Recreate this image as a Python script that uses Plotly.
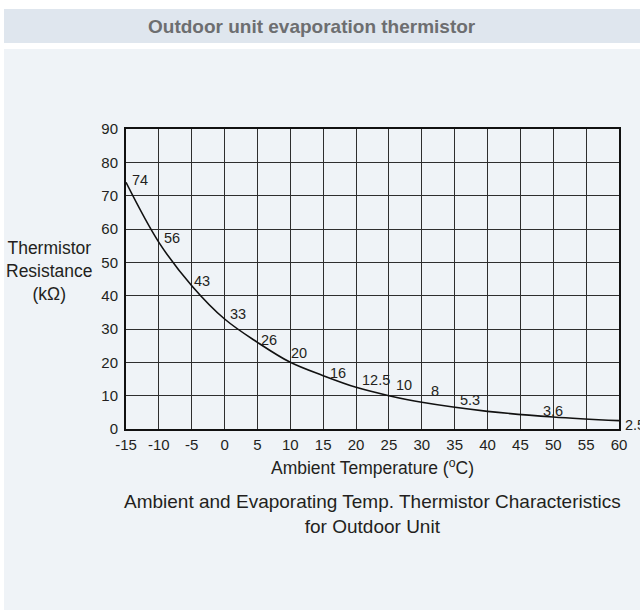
import plotly.graph_objects as go

# Thermistor characteristic: ambient temperature (°C) vs resistance (kΩ)
temps = [-15, -10, -5, 0, 5, 10, 15, 20, 25, 30, 40, 50, 60]
resistance = [74, 56, 43, 33, 26, 20, 16, 12.5, 10, 8, 5.3, 3.6, 2.5]
label_text = ["74", "56", "43", "33", "26", "20", "16", "12.5", "10", "8", "5.3", "3.6", "2.5"]
# pixel offsets of each value label from its point (dx right, dy down)
label_dx = [14, 13, 10, 13, 11.5, 9, 15, 20, 15, 13, -17.5, 0, 4]
label_dy = [-2, -4, -5, -5, -2, -9, -3, -7, -11, -11, -11, -6, 4]

x_ticks = [-15, -10, -5, 0, 5, 10, 15, 20, 25, 30, 35, 40, 45, 50, 55, 60]
x_tick_text = ["-15", "-10", "-5", "0", "5", "10", "15", "20", "25", "30",
               "35", "40", "45", "50", "55", "60"]
y_ticks = [0, 10, 20, 30, 40, 50, 60, 70, 80, 90]

W, H = 640, 610
ML, MR, MT, MB = 126, 21, 129, 181
PW, PH = W - ML - MR, H - MT - MB

FONT = "Arial, Liberation Sans, sans-serif"
TXT = "#231f20"


def px_x(px):
    return (px - ML) / PW


def px_y(py):
    return (H - MB - py) / PH


fig = go.Figure()

fig.add_trace(go.Scatter(
    x=temps, y=resistance, mode="lines",
    line=dict(color="#111111", width=1.6, shape="spline", smoothing=1.0),
    hoverinfo="skip", showlegend=False,
))

annotations = []
for t, r, s, dx, dy in zip(temps, resistance, label_text, label_dx, label_dy):
    annotations.append(dict(
        x=t, y=r, xref="x", yref="y", text=s, showarrow=False,
        xanchor="left" if s == "2.5" else "center", yanchor="middle",
        xshift=dx, yshift=-dy,
        font=dict(family=FONT, size=14.5, color=TXT),
    ))

# header title
annotations.append(dict(
    x=px_x(312), y=px_y(26), xref="paper", yref="paper",
    text="<b>Outdoor unit evaporation thermistor</b>", showarrow=False,
    xanchor="center", yanchor="middle",
    font=dict(family=FONT, size=19, color="#6d6e70"),
))
# y axis title
annotations.append(dict(
    x=px_x(49), y=px_y(271), xref="paper", yref="paper",
    text="Thermistor<br>Resistance<br>(kΩ)", showarrow=False,
    xanchor="center", yanchor="middle", align="center",
    font=dict(family=FONT, size=17.5, color=TXT),
))
# x axis title
annotations.append(dict(
    x=0.5, y=px_y(467), xref="paper", yref="paper",
    text="Ambient Temperature (<sup>o</sup>C)", showarrow=False,
    xanchor="center", yanchor="middle",
    font=dict(family=FONT, size=17.5, color=TXT),
))
# caption
annotations.append(dict(
    x=0.5, y=px_y(514), xref="paper", yref="paper",
    text="Ambient and Evaporating Temp. Thermistor Characteristics<br>for Outdoor Unit",
    showarrow=False, xanchor="center", yanchor="middle", align="center",
    font=dict(family=FONT, size=19, color=TXT),
))

shapes = [
    dict(type="rect", xref="paper", yref="paper", layer="below",
         x0=px_x(4), x1=px_x(W), y0=px_y(9), y1=px_y(43),
         fillcolor="#dfe6ee", line=dict(width=0)),
    dict(type="rect", xref="paper", yref="paper", layer="below",
         x0=px_x(4), x1=px_x(W), y0=px_y(49), y1=px_y(H),
         fillcolor="#eff3f7", line=dict(width=0)),
]

fig.update_layout(
    width=W, height=H,
    margin=dict(l=ML, r=MR, t=MT, b=MB),
    paper_bgcolor="white", plot_bgcolor="rgba(0,0,0,0)",
    annotations=annotations, shapes=shapes,
    font=dict(family=FONT, color=TXT),
)
fig.update_xaxes(
    range=[-15, 60], tickvals=x_ticks, ticktext=x_tick_text,
    showgrid=True, gridcolor="#2e2e2e", gridwidth=1.2,
    showline=True, linecolor="#111111", linewidth=2, mirror=True,
    zeroline=False, ticks="", ticklabelstandoff=1,
    tickfont=dict(family=FONT, size=15, color=TXT),
)
fig.update_yaxes(
    range=[0, 90], tickvals=y_ticks,
    showgrid=True, gridcolor="#2e2e2e", gridwidth=1.2,
    showline=True, linecolor="#111111", linewidth=2, mirror=True,
    zeroline=False, ticks="", ticklabelstandoff=3,
    tickfont=dict(family=FONT, size=15, color=TXT),
)

fig.write_html("out.html")
